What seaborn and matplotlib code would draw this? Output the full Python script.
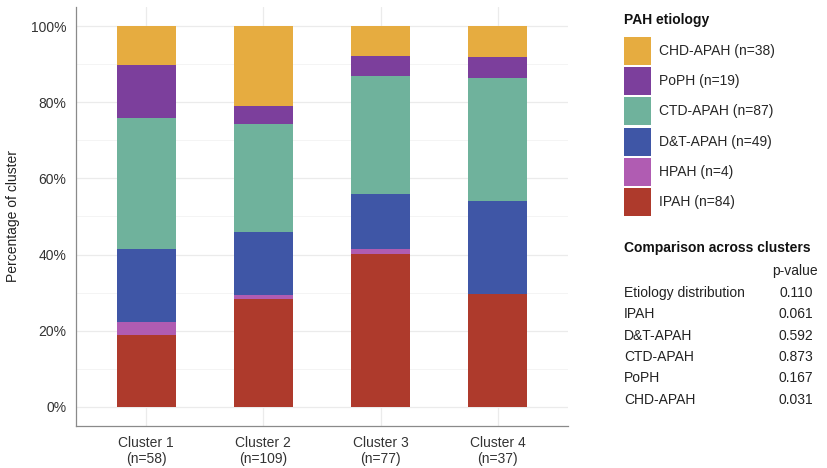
import numpy as np
import pandas as pd
import seaborn as sns
import matplotlib.pyplot as plt
from matplotlib.patches import Patch
from matplotlib.ticker import PercentFormatter, MultipleLocator

# --- Data ---
clusters = ['Cluster 1', 'Cluster 2', 'Cluster 3', 'Cluster 4']
cluster_n = [58, 109, 77, 37]
etiologies = ['CHD-APAH', 'PoPH', 'CTD-APAH', 'D&T-APAH', 'HPAH', 'IPAH']
etiology_n = [38, 19, 87, 49, 4, 84]

# patient counts per cluster
chd = [6, 23, 6, 3]
poph = [8, 5, 4, 2]
ctd = [20, 31, 24, 12]
dt = [11, 18, 11, 9]
hpah = [2, 1, 1, 0]
ipah = [11, 31, 31, 11]

pval_labels = ['Etiology distribution', 'IPAH', 'D&T-APAH', 'CTD-APAH', 'PoPH', 'CHD-APAH']
pvals = ['0.110', '0.061', '0.592', '0.873', '0.167', '0.031']

colors = ['#E6AC40', '#7C3F9C', '#6FB29C', '#3F56A6', '#B05CB2', '#AE3A2C']

counts = dict(zip(etiologies, [chd, poph, ctd, dt, hpah, ipah]))
rows = []
for et in etiologies:
    for cl, c in zip(clusters, counts[et]):
        rows.append({'cluster': cl, 'etiology': et, 'count': c})
df = pd.DataFrame(rows)

# --- Plot ---
sns.set_style('white')
plt.rcParams['font.family'] = ['Liberation Sans', 'DejaVu Sans']

W, H = 827, 468
fig = plt.figure(figsize=(W / 100, H / 100), dpi=100)
ax = fig.add_axes([76 / W, 1 - 426 / H, (568 - 76) / W, (426 - 7) / H])

sns.histplot(data=df, x='cluster', hue='etiology', weights='count',
             hue_order=etiologies, palette=colors, multiple='fill',
             discrete=True, shrink=0.5, linewidth=0, alpha=1,
             legend=False, ax=ax)

ax.set_xlim(-0.6, 3.6)
ax.set_ylim(-0.05, 1.05)
ax.yaxis.set_major_locator(MultipleLocator(0.2))
ax.yaxis.set_minor_locator(MultipleLocator(0.1))
ax.yaxis.set_major_formatter(PercentFormatter(1.0, decimals=0))
ax.set_xticks(range(4))
ax.set_xticklabels([f'{c}\n(n={n})' for c, n in zip(clusters, cluster_n)])
ax.set_axisbelow(True)
ax.grid(which='major', color='#EBEBEB', linewidth=0.9)
ax.grid(which='minor', axis='y', color='#F3F3F3', linewidth=0.6)
for s in ['top', 'right']:
    ax.spines[s].set_visible(False)
for s in ['left', 'bottom']:
    ax.spines[s].set_color('#8A8A8A')
    ax.spines[s].set_linewidth(0.9)
ax.tick_params(which='major', length=3, width=0.8, color='#555555',
               labelsize=10, labelcolor='#333333', pad=4)
ax.tick_params(which='minor', length=0)
ax.set_xlabel('')
ax.set_ylabel('Percentage of cluster', fontsize=10, color='#222222', labelpad=8)


def fy(y):
    return 1 - y / H


# legend
fig.text(624 / W, fy(20), 'PAH etiology', fontsize=10, fontweight='bold',
         va='center', ha='left', color='#111111')
handles = [Patch(facecolor=c, edgecolor='none') for c in colors]
labels = [f'{e} (n={n})' for e, n in zip(etiologies, etiology_n)]
leg = fig.legend(handles, labels, loc='upper left',
                 bbox_to_anchor=(624 / W, fy(37)), frameon=False,
                 fontsize=10, handlelength=1.95, borderpad=0, borderaxespad=0,
                 handleheight=2.72, labelspacing=0.16, handletextpad=0.6)

# comparison table
fig.text(624 / W, fy(248), 'Comparison across clusters', fontsize=10,
         fontweight='bold', va='center', ha='left', color='#111111')
fig.text(818 / W, fy(271), 'p-value', fontsize=10, va='center', ha='right',
         color='#222222')
row_y = [293, 314, 336, 357, 378, 400]
for lab, pv, y in zip(pval_labels, pvals, row_y):
    fig.text(624 / W, fy(y), lab, fontsize=10, va='center', ha='left', color='#222222')
    fig.text(813 / W, fy(y), pv, fontsize=10, va='center', ha='right', color='#222222')

fig.savefig('out.png', dpi=100)
